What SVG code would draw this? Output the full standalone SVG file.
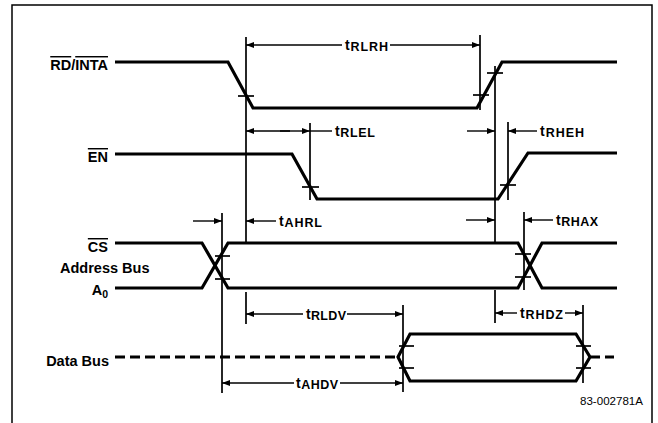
<svg xmlns="http://www.w3.org/2000/svg" width="658" height="423" viewBox="0 0 658 423">
<defs>
<marker id="ah" viewBox="0 0 8 6" refX="8" refY="3" markerWidth="8" markerHeight="6" markerUnits="userSpaceOnUse" orient="auto-start-reverse">
<path d="M0,0 L8,3 L0,6 z" fill="#000"/>
</marker>
<style>
.sig{fill:none;stroke:#000;stroke-width:3.2;stroke-linejoin:miter}
.dash{fill:none;stroke:#000;stroke-width:3.2;stroke-dasharray:10 5}
.ref{stroke:#000;stroke-width:1.7}
.tick{stroke:#000;stroke-width:1.7}
.arr{stroke:#000;stroke-width:1.4;marker-end:url(#ah)}
.lbl{font-family:"Liberation Sans",Arial,sans-serif;font-weight:bold;font-size:14.5px;fill:#000}
.tl{font-family:"Liberation Sans",Arial,sans-serif;font-weight:bold;font-size:14px;fill:#000}
.sub{font-size:12.5px}
.ov{text-decoration:overline}
.frame{fill:none;stroke:#000;stroke-width:1.5}
</style>
</defs>
<path class="frame" d="M12,424 L12,5 L652,5 L652,424"/>

<g id="label-rd-inta"><text class="lbl" x="108" y="70" text-anchor="end"><tspan class="ov">RD</tspan>/<tspan class="ov">INTA</tspan></text></g>
<g id="label-en"><text class="lbl" x="108" y="162" text-anchor="end"><tspan class="ov">EN</tspan></text></g>
<g id="label-cs"><text class="lbl" x="108" y="252" text-anchor="end"><tspan class="ov">CS</tspan></text></g>
<g id="label-address-bus"><text class="lbl" x="60" y="273">Address Bus</text></g>
<g id="label-a0"><text class="lbl" x="108" y="295" text-anchor="end">A<tspan font-size="10.5" dy="3">0</tspan></text></g>
<g id="label-data-bus"><text class="lbl" x="109" y="366" text-anchor="end">Data Bus</text></g>

<g id="signal-rd-inta"><polyline class="sig" points="115,62 228,62 253,108 477,108 502,62 617,62"/></g>
<g id="signal-en"><polyline class="sig" points="115,154 292,154 317,199 498,199 528,153 617,153"/></g>
<g id="signal-cs-address">
<polyline class="sig" points="115,243 202,243 228,288 518,288 542,243 617,243"/>
<polyline class="sig" points="115,288 202,288 228,243 518,243 542,288 617,288"/>
</g>
<g id="signal-data-bus">
<line class="dash" x1="115" y1="357" x2="398" y2="357"/>
<polygon class="sig" points="398,357 410,334 576,334 590,357 576,381 410,381"/>
<line class="dash" x1="591" y1="357" x2="616" y2="357" style="stroke-dasharray:9 5"/>
</g>

<g id="connectors">
<line class="ref" x1="246" y1="37" x2="246" y2="243"/>
<line class="ref" x1="246" y1="292" x2="246" y2="324"/>
<line class="ref" x1="222" y1="213" x2="222" y2="393"/>
<line class="ref" x1="310" y1="123" x2="310" y2="200"/>
<line class="ref" x1="480" y1="35" x2="480" y2="110"/>
<line class="ref" x1="495" y1="66" x2="495" y2="243"/>
<line class="ref" x1="495" y1="290" x2="495" y2="323"/>
<line class="ref" x1="508" y1="122" x2="508" y2="200"/>
<line class="ref" x1="524" y1="212" x2="524" y2="290"/>
<line class="ref" x1="403" y1="305" x2="403" y2="392"/>
<line class="ref" x1="583" y1="305" x2="583" y2="383"/>
<line class="tick" x1="238" y1="96" x2="254" y2="96"/>
<line class="tick" x1="473" y1="95" x2="489" y2="95"/>
<line class="tick" x1="487" y1="73" x2="503" y2="73"/>
<line class="tick" x1="302" y1="187" x2="319" y2="187"/>
<line class="tick" x1="500" y1="185" x2="516" y2="185"/>
<line class="tick" x1="215" y1="256" x2="230" y2="256"/>
<line class="tick" x1="215" y1="279" x2="230" y2="279"/>
<line class="tick" x1="515" y1="254" x2="531" y2="254"/>
<line class="tick" x1="515" y1="277" x2="531" y2="277"/>
<line class="tick" x1="399" y1="346" x2="414" y2="346"/>
<line class="tick" x1="399" y1="368" x2="414" y2="368"/>
<line class="tick" x1="576" y1="346" x2="591" y2="346"/>
<line class="tick" x1="576" y1="368" x2="591" y2="368"/>
<line class="arr" x1="342" y1="45" x2="246" y2="45"/>
<line class="arr" x1="390" y1="45" x2="480" y2="45"/>
<line class="arr" x1="290" y1="131" x2="246" y2="131"/>
<line class="arr" x1="280" y1="131" x2="310" y2="131"/>
<line class="ref" x1="310" y1="131" x2="332" y2="131" style="stroke-width:1.4"/>
<line class="arr" x1="467" y1="131" x2="495" y2="131"/>
<line class="arr" x1="537" y1="131" x2="508" y2="131"/>
<line class="arr" x1="193" y1="221" x2="222" y2="221"/>
<line class="arr" x1="276" y1="221" x2="246" y2="221"/>
<line class="arr" x1="466" y1="220" x2="495" y2="220"/>
<line class="arr" x1="553" y1="220" x2="524" y2="220"/>
<line class="arr" x1="303" y1="314" x2="246" y2="314"/>
<line class="arr" x1="347" y1="314" x2="403" y2="314"/>
<line class="arr" x1="517" y1="313" x2="495" y2="313"/>
<line class="arr" x1="565" y1="313" x2="583" y2="313"/>
<line class="arr" x1="294" y1="383" x2="222" y2="383"/>
<line class="arr" x1="340" y1="383" x2="403" y2="383"/>
</g>

<g id="timing-labels">
<text class="tl" x="345" y="50" textLength="43" lengthAdjust="spacing">t<tspan class="sub" dy="1">RLRH</tspan></text>
<text class="tl" x="335" y="136" textLength="40" lengthAdjust="spacing">t<tspan class="sub" dy="1">RLEL</tspan></text>
<text class="tl" x="540" y="136" textLength="44" lengthAdjust="spacing">t<tspan class="sub" dy="1">RHEH</tspan></text>
<text class="tl" x="279" y="226" textLength="43" lengthAdjust="spacing">t<tspan class="sub" dy="1">AHRL</tspan></text>
<text class="tl" x="556" y="225" textLength="42" lengthAdjust="spacing">t<tspan class="sub" dy="1">RHAX</tspan></text>
<text class="tl" x="306" y="319" textLength="40" lengthAdjust="spacing">t<tspan class="sub" dy="1">RLDV</tspan></text>
<text class="tl" x="520" y="318" textLength="43" lengthAdjust="spacing">t<tspan class="sub" dy="1">RHDZ</tspan></text>
<text class="tl" x="296" y="388" textLength="42" lengthAdjust="spacing">t<tspan class="sub" dy="1">AHDV</tspan></text>
<text x="580" y="405" font-family="Liberation Sans, Arial, sans-serif" font-size="11" textLength="63" lengthAdjust="spacingAndGlyphs" fill="#000">83-002781A</text>
</g>
</svg>
